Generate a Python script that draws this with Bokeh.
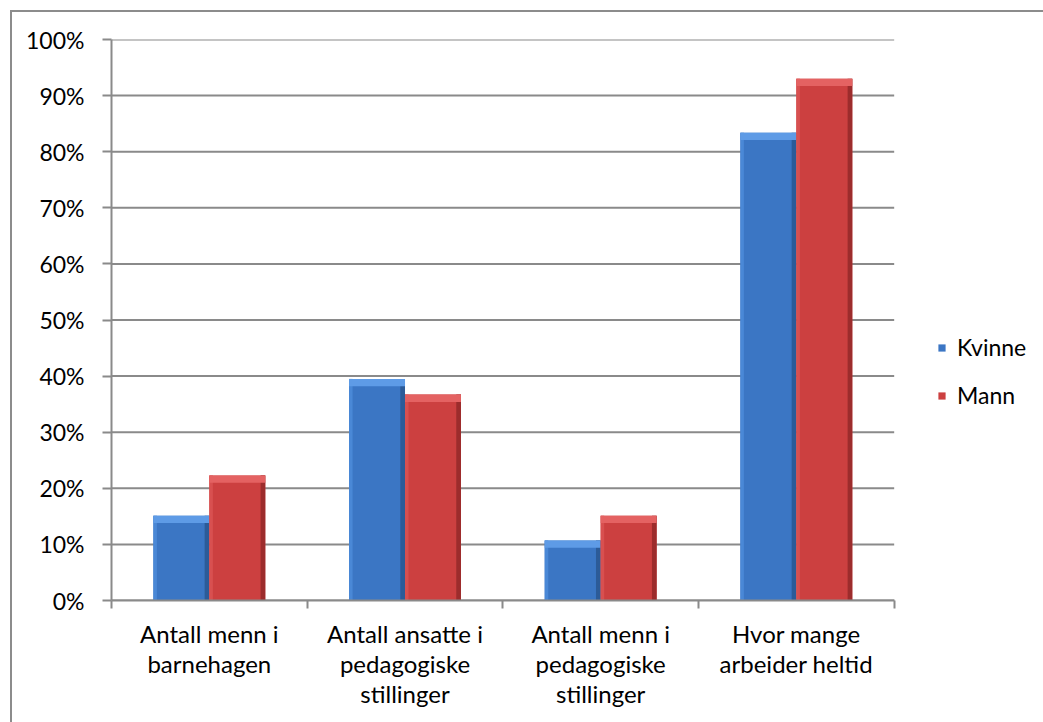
from bokeh.plotting import figure
from bokeh.models import (Range1d, FixedTicker, NumeralTickFormatter, Legend, LegendItem,
                          ColumnDataSource, LinearAxis)
from bokeh.embed import file_html
from bokeh.resources import INLINE
import numpy as np

categories = ["Antall menn i\nbarnehagen", "Antall ansatte i\npedagogiske\nstillinger",
              "Antall menn i\npedagogiske\nstillinger", "Hvor mange\narbeider heltid"]
kvinne = [0.151, 0.395, 0.107, 0.834]
mann = [0.223, 0.367, 0.151, 0.930]
series_names = ["Kvinne", "Mann"]
y_ticks = [0.0, 0.1, 0.2, 0.3, 0.4, 0.5, 0.6, 0.7, 0.8, 0.9, 1.0]

FONT = "Lato"
GRID = "#8a8a8a"

n = len(categories)
PLOT_W = 781      # pixel width of the category area
FRAME_W = 930     # frame extends to the right to host the legend
x_end = n * FRAME_W / PLOT_W

p = figure(width=1033, height=712, output_backend="svg", toolbar_location=None,
           x_range=Range1d(0, x_end), y_range=Range1d(0, 1),
           min_border_left=99, min_border_right=4, min_border_top=27, min_border_bottom=126,
           x_axis_type=None)
p.margin = (10, 0, 0, 10)
p.styles = {"border-left": "2px solid #8c8c8c", "border-top": "2px solid #8c8c8c",
            "box-sizing": "content-box"}
p.outline_line_color = None
p.background_fill_color = "white"
p.border_fill_color = "white"

# y axis
p.yaxis.ticker = FixedTicker(ticks=y_ticks)
p.yaxis.formatter = NumeralTickFormatter(format="0%")
p.yaxis.axis_line_color = GRID
p.yaxis.axis_line_width = 2
p.yaxis.major_tick_line_color = GRID
p.yaxis.major_tick_line_width = 2
p.yaxis.major_tick_out = 9
p.yaxis.major_tick_in = 0
p.yaxis.minor_tick_line_color = None
p.yaxis.major_label_standoff = 18
p.yaxis.major_label_text_font = FONT
p.yaxis.major_label_text_font_size = "23px"
p.yaxis.major_label_text_color = "black"

p.ygrid.grid_line_color = None
p.xgrid.grid_line_color = None

# horizontal gridlines limited to the category area
p.segment(x0=[0] * len(y_ticks), x1=[n] * len(y_ticks), y0=y_ticks, y1=y_ticks,
          line_color=GRID, line_width=2)

# x axis: minor ticks at category boundaries, labels at centres
centers = np.arange(n) + 0.5
xax = LinearAxis(ticker=FixedTicker(ticks=list(centers), minor_ticks=list(range(n + 1))),
                 bounds=(0, n))
xax.major_label_overrides = {float(c): lab for c, lab in zip(centers, categories)}
xax.axis_line_color = GRID
xax.axis_line_width = 2
xax.major_tick_line_color = None
xax.minor_tick_line_color = GRID
xax.minor_tick_line_width = 2
xax.minor_tick_out = 8
xax.minor_tick_in = 0
xax.major_label_standoff = 10
xax.major_label_text_font = FONT
xax.major_label_text_font_size = "24px"
xax.major_label_text_color = "black"
xax.major_label_text_line_height = 1.05
p.add_layout(xax, "below")

bw = 0.286
styles = [
    dict(vals=kvinne, off=-bw / 2, body="#3b76c4", top="#5e9be6", left="#4a88d6", right="#2c5b98"),
    dict(vals=mann, off=bw / 2, body="#cc4040", top="#e46262", left="#d85050", right="#9c2c2c"),
]
renderers = []
for s in styles:
    vals = np.array(s["vals"])
    xs = centers + s["off"]
    zero = np.zeros_like(vals)
    src = ColumnDataSource(dict(x=xs, top=vals, cap=vals - 0.013, zero=zero))
    r = p.vbar(x="x", width=bw, top="top", bottom="zero", source=src,
               fill_color=s["body"], line_color=None)
    src_l = ColumnDataSource(dict(x=xs - bw / 2 + 0.009, top=vals, zero=zero))
    p.vbar(x="x", width=0.018, top="top", bottom="zero", source=src_l,
           fill_color=s["left"], line_color=None)
    src_r = ColumnDataSource(dict(x=xs + bw / 2 - 0.012, top=vals, zero=zero))
    p.vbar(x="x", width=0.024, top="top", bottom="zero", source=src_r,
           fill_color=s["right"], line_color=None)
    p.vbar(x="x", width=bw, top="top", bottom="cap", source=src,
           fill_color=s["top"], line_color=None)
    renderers.append(r)

legend = Legend(items=[LegendItem(label=nm, renderers=[r]) for nm, r in zip(series_names, renderers)],
                location=(826, 190))
legend.glyph_width = 9
legend.glyph_height = 9
legend.label_height = 30
legend.spacing = 18
legend.padding = 0
legend.margin = 0
legend.label_standoff = 11
legend.border_line_color = None
legend.background_fill_alpha = 0
legend.label_text_font = FONT
legend.label_text_font_size = "23px"
legend.label_text_color = "black"
p.add_layout(legend, "center")

open("out.html", "w").write(file_html(p, INLINE))
